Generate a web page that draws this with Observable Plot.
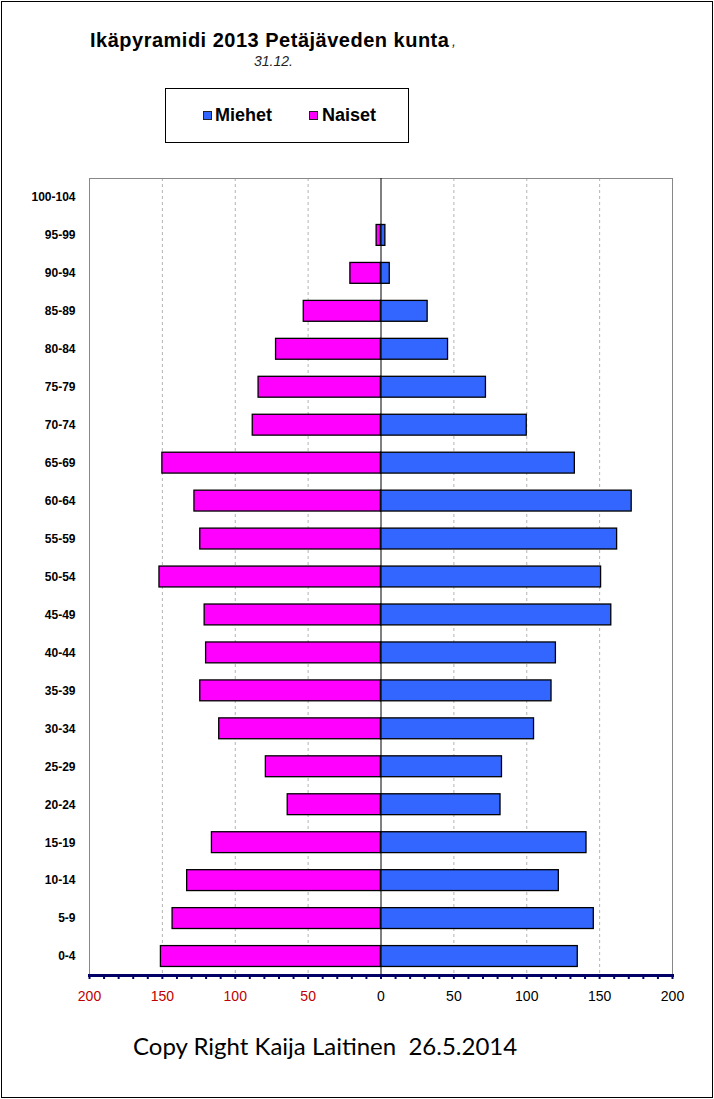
<!DOCTYPE html>
<html>
<head>
<meta charset="utf-8">
<script src="https://cdn.jsdelivr.net/npm/d3@7"></script>
<script src="https://cdn.jsdelivr.net/npm/@observablehq/plot@0.6"></script>
<style>
  html, body { margin: 0; padding: 0; background: #fff; }
  #wrap { position: relative; width: 714px; height: 1099px; overflow: hidden; font-family: "Liberation Sans", Arial, sans-serif; background: #fff; }
  #outer { position: absolute; left: 1px; top: 1px; width: 712px; height: 1097px; box-sizing: border-box; border: 1px solid #000; pointer-events: none; }
  #chart { position: absolute; left: 0; top: 0; }
  #title { position: absolute; left: 90px; top: 30px; font-size: 20px; font-weight: bold; letter-spacing: 0.5px; line-height: 20px; white-space: nowrap; color: #000; }
  #comma { position: absolute; left: 452px; top: 34px; font-size: 14px; font-style: italic; line-height: 14px; color: #222; }
  #subtitle { position: absolute; left: 254px; top: 54px; font-size: 14px; font-style: italic; line-height: 14px; color: #222; white-space: nowrap; }
  #legend { position: absolute; left: 165px; top: 88px; width: 244px; height: 55px; box-sizing: border-box; border: 1px solid #000; background: #fff; }
  .item { position: absolute; top: 16px; font-size: 18px; font-weight: bold; line-height: 20px; white-space: nowrap; color: #000; }
  .sw { position: absolute; top: 6px; width: 9px; height: 9px; box-sizing: border-box; border: 1px solid #222; }
  .lab { position: absolute; top: 0; }
  #caption { position: absolute; left: 133px; top: 1031px; font-family: Lato, "Open Sans", sans-serif; font-size: 24px; line-height: 30px; white-space: pre; color: #000; }
</style>
</head>
<body>
<div id="wrap">
  <div id="chart"></div>
  <div id="title">Ikäpyramidi 2013 Petäjäveden kunta</div>
  <div id="comma">,</div>
  <div id="subtitle">31.12.</div>
  <div id="legend">
    <div class="item" style="left:37px;"><span class="sw" style="left:0;background:#3366ff;"></span><span class="lab" style="left:12px;">Miehet</span></div>
    <div class="item" style="left:143px;"><span class="sw" style="left:0;background:#ff00ff;"></span><span class="lab" style="left:13px;">Naiset</span></div>
  </div>
  <div id="caption">Copy Right Kaija Laitinen  26.5.2014</div>
  <div id="outer"></div>
</div>
<script>
// Age groups from youngest to oldest
const ageGroups = ["0-4","5-9","10-14","15-19","20-24","25-29","30-34","35-39","40-44","45-49","50-54","55-59","60-64","65-69","70-74","75-79","80-84","85-89","90-94","95-99","100-104"];
// Miehet (men)
const men   = [135,146,122,141,82,83,105,117,120,158,151,162,172,133,100,72,46,32,6,3,0];
// Naiset (women)
const women = [151,143,133,116,64,79,111,124,120,121,152,124,128,150,88,84,72,53,21,3,0];

const gridTicks = [-150,-100,-50,50,100,150];
const labelTicksNeg = [-200,-150,-100,-50];
const labelTicksPos = [0,50,100,150,200];
const minorTicks = [-200,-190,-180,-170,-160,-150,-140,-130,-120,-110,-100,-90,-80,-70,-60,-50,-40,-30,-20,-10,0,10,20,30,40,50,60,70,80,90,100,110,120,130,140,150,160,170,180,190,200];

const menRows = ageGroups.map((a, i) => ({age: a, value: men[i]}));
const womenRows = ageGroups.map((a, i) => ({age: a, value: -women[i]}));

const chart = Plot.plot({
  width: 714,
  height: 1099,
  marginTop: 178,
  marginBottom: 124,
  marginLeft: 89,
  marginRight: 42,
  style: {background: "transparent", fontFamily: "'Liberation Sans', Arial, sans-serif"},
  x: {domain: [-200, 200]},
  y: {domain: ageGroups.slice().reverse(), paddingInner: 0.45, paddingOuter: 0.225, round: false},
  marks: [
    Plot.ruleX(gridTicks, {stroke: "#b4b4b4", strokeDasharray: "3,3", strokeWidth: 1}),
    Plot.frame({stroke: "#888888", strokeWidth: 1}),
    Plot.barX(womenRows, {y: "age", x1: 0, x2: "value", fill: "#ff00ff", stroke: "#000", strokeWidth: 1.3}),
    Plot.barX(menRows, {y: "age", x1: 0, x2: "value", fill: "#3366ff", stroke: "#000", strokeWidth: 1.3}),
    Plot.ruleX([0], {stroke: "#000", strokeWidth: 1}),
    Plot.axisY({tickSize: 0, tickPadding: 14, fontSize: 12, fontWeight: "bold", fill: "#000", label: null}),
    Plot.frame({anchor: "bottom", stroke: "#000066", strokeWidth: 3}),
    Plot.axisX(minorTicks, {tickSize: 4, tickFormat: () => "", stroke: "#000066", strokeWidth: 2, label: null}),
    Plot.axisX(labelTicksNeg, {tickSize: 0, tickPadding: 16, tickFormat: d => Math.abs(d), fill: "#c00000", fontSize: 14, label: null}),
    Plot.axisX(labelTicksPos, {tickSize: 0, tickPadding: 16, tickFormat: d => Math.abs(d), fill: "#000", fontSize: 14, label: null})
  ]
});
document.getElementById("chart").appendChild(chart);
</script>
</body>
</html>
